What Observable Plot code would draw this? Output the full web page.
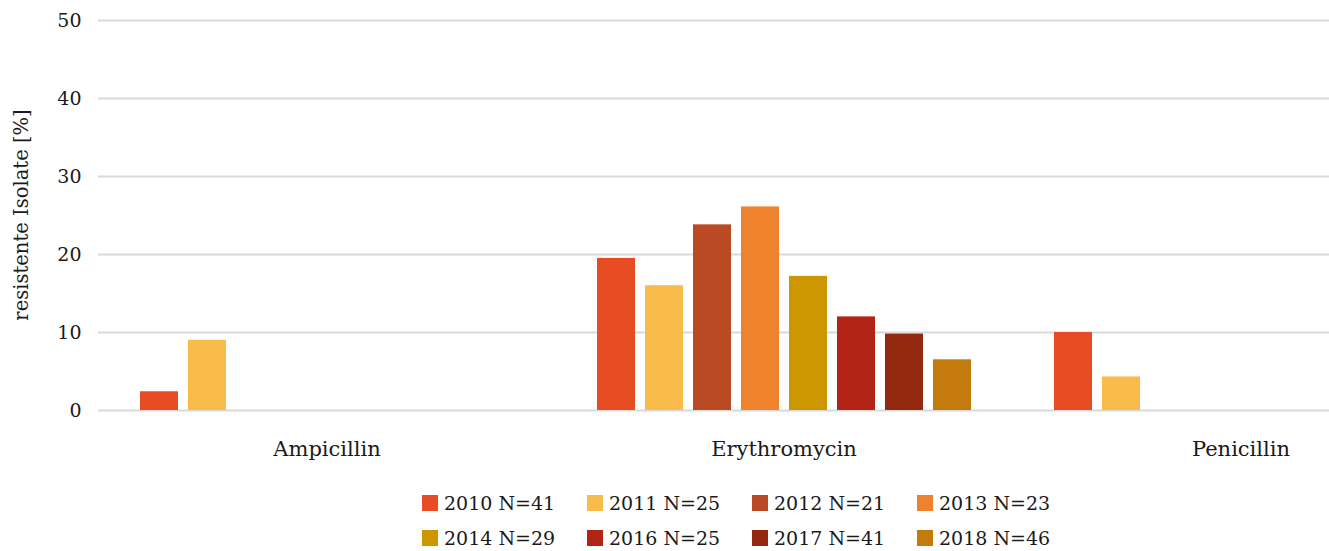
<!DOCTYPE html>
<html>
<head>
<meta charset="utf-8">
<script src="https://cdn.jsdelivr.net/npm/d3@7"></script>
<script src="https://cdn.jsdelivr.net/npm/@observablehq/plot@0.6"></script>
<style>
  html, body { margin: 0; padding: 0; background: #fff; overflow: hidden; }
  #wrap { position: relative; width: 1469px; font-family: "DejaVu Serif", serif; color: #1a1a1a; }
  #ylabel { position: absolute; left: 22px; top: 215px; transform: translate(-50%, -50%) rotate(-90deg);
            font-size: 19.5px; white-space: nowrap; line-height: 1; }
  #legend { display: grid; grid-template-columns: repeat(4, 165px); justify-content: start;
            margin-left: 422px; row-gap: 11px; margin-top: 21px; font-size: 19px; }
  .item { display: flex; align-items: center; height: 24px; white-space: nowrap; }
  .sw { width: 16px; height: 16px; margin-right: 6px; display: inline-block; }
  g[aria-label^="fx-axis"], g[aria-label^="fx-axis"] text { font-size: 21px; }
</style>
</head>
<body>
<div id="wrap"><div id="chart"></div><div id="ylabel"></div><div id="legend"></div></div>
<script>
const antibiotics = ["Ampicillin", "Erythromycin", "Penicillin"];
const years = ["2010 N=41", "2011 N=25", "2012 N=21", "2013 N=23", "2014 N=29", "2016 N=25", "2017 N=41", "2018 N=46"];
const colors = ["#E84C22", "#F9BB4A", "#B94A24", "#EF832D", "#CC9700", "#B22516", "#932A10", "#C37B0E"];
const ampicillinValues = [2.4, 9.0, null, null, null, null, null, null];
const erythromycinValues = [19.5, 16.0, 23.8, 26.1, 17.2, 12.0, 9.8, 6.5];
const penicillinValues = [10.0, 4.3, null, null, null, null, null, null];
const yTicks = [0, 10, 20, 30, 40, 50];
const yTitle = "resistente Isolate [%]";

const series = [ampicillinValues, erythromycinValues, penicillinValues];
const data = [];
antibiotics.forEach((a, i) => years.forEach((yr, j) => {
  if (series[i][j] != null) data.push({antibiotic: a, year: yr, value: series[i][j]});
}));

const chart = Plot.plot({
  width: 1469,
  height: 470,
  marginLeft: 98,
  marginRight: 0,
  marginTop: 20,
  marginBottom: 60,
  style: {fontFamily: "DejaVu Serif", fontSize: "19px", color: "#1a1a1a", background: "#fff"},
  facet: {marginTop: 0, marginBottom: 0, marginLeft: 0, marginRight: 0},
  fx: {domain: antibiotics, padding: 0, label: null, axis: "bottom", tickSize: 0, tickPadding: 31},
  x: {domain: years, paddingInner: 0.21, paddingOuter: 0.865, axis: null},
  y: {domain: [0, 50], ticks: yTicks, tickSize: 0, tickPadding: 17, label: null},
  color: {domain: years, range: colors},
  marks: [
    Plot.ruleY(yTicks, {stroke: "#d9d9d9", strokeWidth: 2}),
    Plot.barY(data, {fx: "antibiotic", x: "year", y: "value", fill: "year"})
  ]
});
document.getElementById("chart").appendChild(chart);
document.getElementById("ylabel").textContent = yTitle;

const legend = document.getElementById("legend");
years.forEach((yr, i) => {
  const it = document.createElement("div");
  it.className = "item";
  it.innerHTML = `<span class="sw" style="background:${colors[i]}"></span><span>${yr}</span>`;
  legend.appendChild(it);
});
</script>
</body>
</html>
